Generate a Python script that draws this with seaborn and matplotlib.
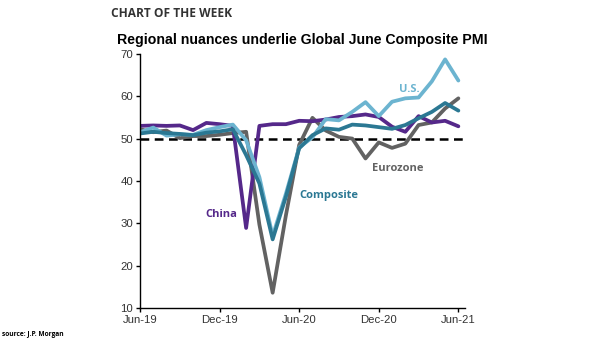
import numpy as np
import pandas as pd
import matplotlib
matplotlib.use("Agg")
import matplotlib.pyplot as plt
import seaborn as sns

months = pd.date_range("2019-06-01", "2021-06-01", freq="MS").strftime("%b-%y").tolist()

china = [53.0, 53.1, 53.0, 53.1, 52.0, 53.7, 53.4, 53.0, 28.9, 53.0, 53.4, 53.4,
         54.2, 54.1, 54.5, 55.1, 55.3, 55.7, 55.1, 52.8, 51.6, 55.3, 53.8, 54.2, 52.9]
eurozone = [52.2, 51.5, 51.9, 50.1, 50.6, 50.6, 50.9, 51.3, 51.6, 29.7, 13.6, 31.9,
            48.5, 54.9, 51.9, 50.4, 50.0, 45.3, 49.1, 47.8, 48.8, 53.2, 53.8, 57.1, 59.5]
us = [51.5, 52.6, 50.7, 51.0, 50.9, 52.0, 52.7, 53.3, 49.6, 40.9, 27.0, 37.0,
      47.9, 50.3, 54.6, 54.3, 56.3, 58.6, 55.3, 58.7, 59.5, 59.7, 63.5, 68.7, 63.7]
composite = [51.2, 51.6, 51.3, 51.1, 50.8, 51.4, 51.7, 52.2, 46.1, 39.4, 26.2, 36.3,
             47.7, 50.8, 52.4, 52.1, 53.3, 53.1, 52.7, 52.3, 53.2, 54.8, 56.3, 58.4, 56.6]

series_names = ["Eurozone", "China", "U.S.", "Composite"]
colors = {"Eurozone": "#626262", "China": "#55288a", "U.S.": "#6cb4d0", "Composite": "#2b7893"}

tick_labels = ["Jun-19", "Dec-19", "Jun-20", "Dec-20", "Jun-21"]

df = pd.DataFrame({
    "month": list(range(len(months))) * 4,
    "value": eurozone + china + us + composite,
    "series": sum([[n] * len(months) for n in series_names], []),
})

sns.set_theme(style="white")
plt.rcParams["font.family"] = ["Liberation Sans", "DejaVu Sans"]

fig = plt.figure(figsize=(6.05, 3.41), dpi=100)
ax = fig.add_axes([0.2314, 0.0968, 0.5372, 0.7452])

sns.lineplot(data=df, x="month", y="value", hue="series", hue_order=series_names,
             palette=colors, linewidth=2.7, legend=False, ax=ax)

ax.axhline(50, color="black", linewidth=1.8, linestyle=(0, (3.5, 2.2)), zorder=1)

ax.set_xlim(0, 24.5)
ax.set_ylim(10, 70)
ax.set_yticks([10, 20, 30, 40, 50, 60, 70])
ax.set_xticks([0, 6, 12, 18, 24])
ax.set_xticklabels(tick_labels)
ax.set_xlabel("")
ax.set_ylabel("")
for s in ["top", "right"]:
    ax.spines[s].set_visible(False)
for s in ["left", "bottom"]:
    ax.spines[s].set_color("black")
    ax.spines[s].set_linewidth(1.0)
ax.tick_params(axis="both", direction="out", length=3, width=1, color="black",
               labelsize=8.2, labelcolor="#333333", pad=2, left=True, bottom=True)

lab = dict(fontsize=8, fontweight="bold", family=["Open Sans", "DejaVu Sans"])
ax.text(20.3, 61.5, "U.S.", color=colors["U.S."], ha="center", va="center", **lab)
ax.text(19.4, 43.0, "Eurozone", color=colors["Eurozone"], ha="center", va="center", **lab)
ax.text(12.0, 36.6, "Composite", color=colors["Composite"], ha="left", va="center", **lab)
ax.text(4.9, 32.0, "China", color=colors["China"], ha="left", va="center", **lab)

fig.text(0.5, 0.883, "Regional nuances underlie Global June Composite PMI",
         ha="center", va="center", fontsize=10.2, fontweight="bold", color="black")
fig.text(0.184, 0.96, "CHART OF THE WEEK", ha="left", va="center", fontsize=8.6,
         fontweight="bold", color="#333333", family=["Open Sans", "DejaVu Sans"])
fig.text(0.004, 0.018, "source: J.P. Morgan", ha="left", va="center", fontsize=4.8,
         fontweight="bold", color="black", family=["Open Sans", "DejaVu Sans"])

fig.savefig("out.png", dpi=100)
